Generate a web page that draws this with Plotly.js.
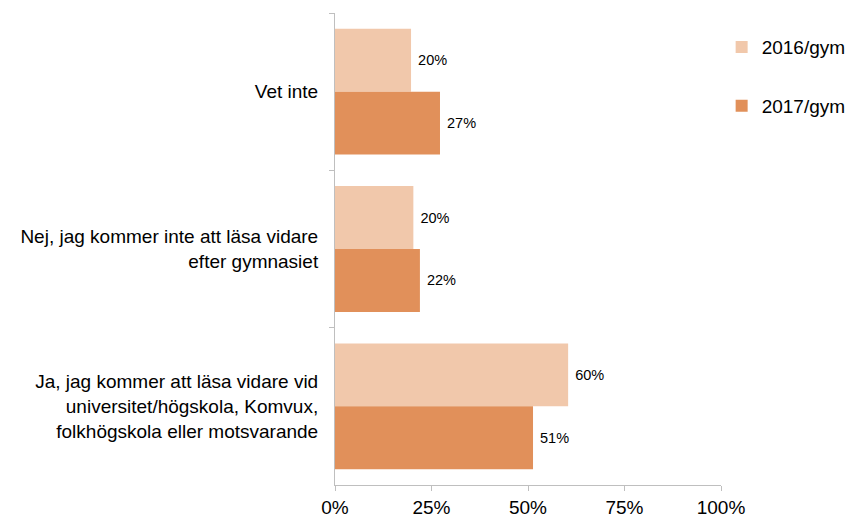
<!DOCTYPE html>
<html>
<head>
<meta charset="utf-8">
<script src="https://cdn.plot.ly/plotly-3.0.1.min.js"></script>
<style>html,body{margin:0;padding:0;background:#fff;}#chart{width:852px;height:520px;}</style>
</head>
<body>
<div id="chart"></div>
<script>
const categories = [
  "Vet inte",
  "Nej, jag kommer inte att läsa vidare<br>efter gymnasiet",
  "Ja, jag kommer att läsa vidare vid<br>universitet/högskola, Komvux,<br>folkhögskola eller motsvarande"
];
const seriesNames = ["2016/gym", "2017/gym"];
const values2016 = [19.7, 20.3, 60.4];
const values2017 = [27.2, 22.0, 51.3];
const labels2016 = ["20%", "20%", "60%"];
const labels2017 = ["27%", "22%", "51%"];
const xTickVals = [0, 25, 50, 75, 100];
const xTickText = ["0%", "25%", "50%", "75%", "100%"];

const font = "Liberation Sans, Arial, sans-serif";
const pad = "\u00a0";

const traces = [
  {
    type: "bar", orientation: "h", name: seriesNames[0],
    y: categories, x: values2016,
    text: labels2016.map(t => pad + t), textposition: "outside",
    textfont: {family: font, size: 14.5, color: "#000"},
    marker: {color: "#F1C8AB"}, legendgroup: "a", cliponaxis: false,
    hoverinfo: "x+name"
  },
  {
    type: "bar", orientation: "h", name: seriesNames[1],
    y: categories, x: values2017,
    text: labels2017.map(t => pad + t), textposition: "outside",
    textfont: {family: font, size: 14.5, color: "#000"},
    marker: {color: "#E1905A"}, legendgroup: "b", cliponaxis: false,
    hoverinfo: "x+name"
  }
];

const layout = {
  width: 852, height: 520,
  margin: {l: 335, r: 131, t: 13, b: 35, autoexpand: false},
  paper_bgcolor: "#fff", plot_bgcolor: "#fff",
  barmode: "group", bargap: 0.2, bargroupgap: 0,
  font: {family: font, size: 19, color: "#000"},
  showlegend: true,
  legend: {
    xref: "container", yref: "container",
    x: 0.847, xanchor: "left", y: 0.946, yanchor: "top",
    traceorder: "grouped", tracegroupgap: 31,
    font: {family: font, size: 19, color: "#000"},
    bgcolor: "rgba(0,0,0,0)"
  },
  xaxis: {
    range: [0, 100], tickvals: xTickVals, ticktext: xTickText,
    showgrid: false, zeroline: false,
    showline: true, linecolor: "#BFBFBF", linewidth: 1,
    ticks: "outside", ticklen: 5, tickcolor: "#BFBFBF",
    tickfont: {family: font, size: 19, color: "#000"}
  },
  yaxis: {
    type: "category", categoryorder: "array", categoryarray: categories,
    autorange: "reversed",
    showgrid: false, zeroline: false,
    showline: true, linecolor: "#BFBFBF", linewidth: 1,
    ticks: "outside", ticklen: 5, tickcolor: "#BFBFBF", tickson: "boundaries",
    ticklabelstandoff: 12,
    tickfont: {family: font, size: 19, color: "#000"}
  }
};

Plotly.newPlot("chart", traces, layout, {staticPlot: true, displayModeBar: false});
</script>
</body>
</html>
